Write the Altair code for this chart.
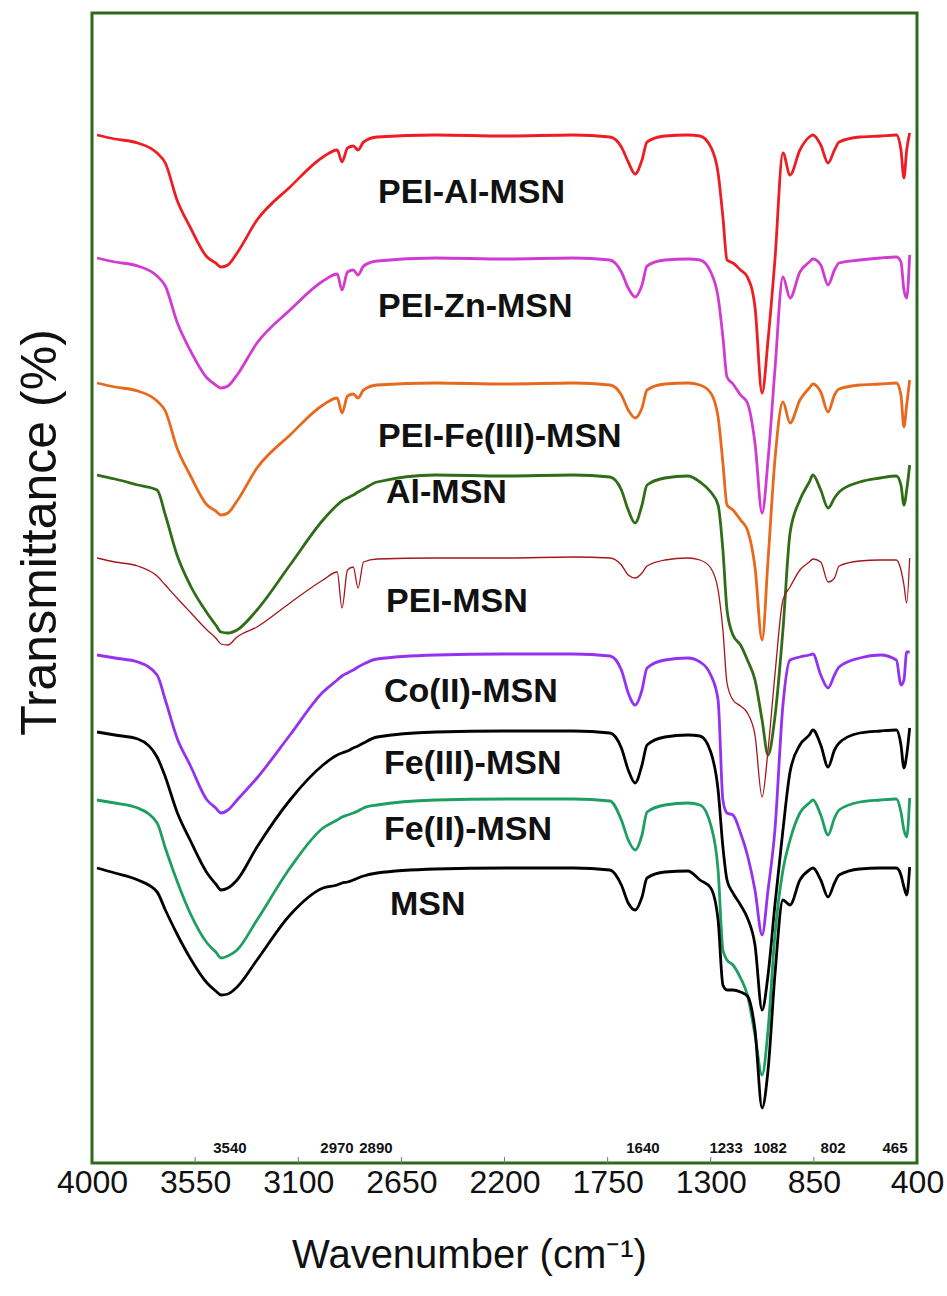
import altair as alt
import pandas as pd

# ---------------- data ----------------
wavenumber = [3978, 3900, 3800, 3716, 3680, 3629, 3572, 3498, 3460, 3437,
              3407, 3367, 3280, 3136, 2992, 2930, 2909, 2885, 2860, 2839,
              2815, 2756, 2500, 2200, 1900, 1740, 1690, 1660, 1630, 1600,
              1578, 1500, 1400, 1347, 1300, 1268, 1247, 1229, 1203, 1170,
              1140, 1107, 1076, 1050, 1020, 985, 954, 911, 870, 854,
              820, 788, 760, 740, 650, 560, 490, 470, 457, 445, 432]

series_names = ["PEI-Al-MSN", "PEI-Zn-MSN", "PEI-Fe(III)-MSN", "Al-MSN", "PEI-MSN",
                "Co(II)-MSN", "Fe(III)-MSN", "Fe(II)-MSN", "MSN"]

t_pei_al = [1028, 1024, 1020, 1010, 1000, 963, 936, 906, 900, 896,
            898, 910, 943, 976, 1006, 1013, 1001, 1015, 1017, 1013,
            1021, 1026, 1028, 1027, 1028, 1026, 1016, 1001, 989, 1003,
            1021, 1027, 1028, 1027, 1016, 990, 946, 903, 900, 893,
            886, 856, 770, 823, 903, 1010, 988, 1013, 1026, 1028,
            1018, 1000, 1013, 1021, 1026, 1027, 1028, 1013, 985, 1013, 1030]
t_pei_zn = [905, 901, 897, 887, 877, 841, 813, 785, 778, 775,
            777, 788, 820, 853, 882, 889, 873, 891, 893, 888,
            897, 902, 905, 904, 905, 903, 891, 875, 866, 878,
            897, 903, 904, 903, 891, 866, 826, 786, 779, 768,
            760, 720, 650, 703, 793, 886, 865, 891, 901, 904,
            898, 878, 893, 900, 903, 905, 906, 901, 873, 865, 908]
t_pei_fe3 = [780, 776, 772, 762, 752, 715, 688, 658, 652, 648,
             650, 662, 695, 728, 758, 765, 750, 767, 769, 765,
             773, 778, 780, 779, 780, 778, 768, 753, 745, 755,
             773, 779, 780, 778, 770, 746, 700, 658, 653, 643,
             633, 596, 523, 603, 703, 761, 740, 763, 775, 779,
             771, 751, 768, 774, 778, 779, 780, 768, 736, 758, 783]
t_al = [688, 684, 678, 673, 648, 608, 578, 550, 538, 531,
        530, 533, 553, 598, 643, 658, 662, 665, 668, 671,
        674, 681, 688, 687, 688, 686, 673, 653, 640, 658,
        678, 685, 687, 681, 671, 658, 613, 553, 528, 518,
        503, 483, 443, 408, 446, 533, 630, 663, 681, 688,
        673, 655, 665, 671, 681, 685, 687, 678, 658, 673, 698]
t_pei = [605, 601, 597, 587, 578, 565, 551, 533, 525, 519,
         518, 526, 536, 560, 583, 591, 555, 593, 596, 575,
         601, 604, 605, 605, 606, 605, 598, 588, 585, 590,
         597, 603, 605, 603, 595, 573, 533, 480, 463, 457,
         450, 428, 366, 413, 488, 563, 576, 593, 601, 604,
         601, 581, 585, 597, 602, 603, 603, 593, 578, 560, 605]
t_co2 = [508, 505, 501, 488, 463, 425, 398, 363, 355, 350,
         353, 363, 385, 428, 471, 483, 487, 490, 493, 496,
         499, 504, 508, 509, 509, 507, 493, 470, 458, 473,
         495, 503, 505, 501, 488, 463, 363, 350, 348, 330,
         308, 273, 228, 273, 333, 458, 503, 506, 508, 509,
         488, 475, 488, 496, 505, 508, 503, 478, 483, 511, 511]
t_fe3 = [431, 428, 424, 406, 386, 351, 323, 290, 279, 273,
         275, 283, 316, 363, 398, 408, 410, 412, 415, 417,
         420, 426, 431, 432, 432, 430, 415, 393, 380, 398,
         418, 426, 428, 427, 411, 373, 316, 283, 270, 258,
         245, 218, 153, 188, 258, 333, 391, 418, 428, 433,
         418, 396, 413, 420, 430, 432, 433, 418, 395, 408, 435]
t_fe2 = [363, 360, 355, 340, 315, 282, 250, 220, 211, 205,
         207, 213, 243, 295, 335, 343, 346, 348, 350, 352,
         355, 358, 363, 364, 364, 362, 343, 323, 313, 328,
         351, 358, 360, 358, 338, 293, 213, 203, 198, 185,
         168, 128, 88, 133, 228, 293, 323, 350, 360, 363,
         348, 328, 345, 353, 361, 363, 364, 351, 333, 326, 365]
t_msn = [295, 290, 283, 271, 253, 229, 205, 180, 172, 168,
         169, 176, 203, 248, 275, 278, 280, 281, 283, 285,
         287, 290, 294, 295, 295, 293, 278, 260, 253, 266,
         285, 291, 292, 283, 275, 243, 178, 173, 173, 171,
         167, 133, 55, 93, 188, 263, 258, 283, 293, 295,
         283, 266, 280, 288, 294, 295, 295, 288, 276, 268, 296]

series_values = [t_pei_al, t_pei_zn, t_pei_fe3, t_al, t_pei, t_co2, t_fe3, t_fe2, t_msn]
series_colors = ["#ee1d23", "#d23bd2", "#e8691e", "#2f6d17", "#a5161c",
                 "#9432f0", "#000000", "#1e9f62", "#000000"]

# curve labels (anchor: wavenumber of left edge, transmittance of centre)
label_text = series_names
label_wn = [2752, 2752, 2752, 2717, 2717, 2726, 2726, 2726, 2700]
label_t = [970, 856, 726, 670, 561, 471, 399, 333, 258]

# band annotations along the bottom
band_text = ["3540", "2970", "2890", "1640", "1233", "1082", "802", "465"]
band_wn = [3398, 2931, 2761, 1596, 1233, 1041, 766, 496]
band_t = [15, 15, 15, 15, 15, 15, 15, 15]

x_ticks = [4000, 3550, 3100, 2650, 2200, 1750, 1300, 850, 400]
inner_ticks = [3550, 3100, 2650, 2200, 1750, 1300, 850]

# ---------------- tables ----------------
rows = []
for name, vals in zip(series_names, series_values):
    for w, t in zip(wavenumber, vals):
        rows.append({"series": name, "wavenumber": w, "T": t})
spectra = pd.DataFrame(rows)
labels = pd.DataFrame({"label": label_text, "wavenumber": label_wn, "T": label_t})
bands = pd.DataFrame({"band": band_text, "wavenumber": band_wn, "T": band_t})
ticks_df = pd.DataFrame({"wavenumber": inner_ticks})

SANS = "'Liberation Sans', Arial, sans-serif"

xscale = alt.Scale(domain=[4000, 400], nice=False, zero=False)
yscale = alt.Scale(domain=[0, 1150], nice=False, zero=False)

x_enc = alt.X(
    "wavenumber:Q", scale=xscale,
    axis=alt.Axis(values=x_ticks, title="Wavenumber (cm\u207b\u00b9)", grid=False,
                  domain=False, ticks=False, labelFlush=False, labelOverlap=False,
                  labelFont=SANS, labelFontSize=32, labelColor="#111111",
                  labelPadding=4, format="d",
                  titleFont=SANS, titleFontSize=40, titleFontWeight="normal",
                  titleColor="#111111", titleX=377, titleY=104,
                  titleBaseline="alphabetic", titleAlign="center"))
y_enc = alt.Y(
    "T:Q", scale=yscale,
    axis=alt.Axis(title="Transmittance (%)", labels=False, ticks=False, domain=False,
                  grid=False, titleFont=SANS, titleFontSize=50, titleFontWeight="normal",
                  titleColor="#111111", titleAngle=270, titleX=-52, titleY=519,
                  titleBaseline="middle", titleAlign="center"))

lines = alt.Chart(spectra).mark_line(interpolate="monotone", strokeJoin="round").encode(
    x=x_enc,
    y=y_enc,
    color=alt.Color("series:N", scale=alt.Scale(domain=series_names, range=series_colors),
                    legend=None),
    strokeWidth=alt.condition(alt.datum.series == "PEI-MSN", alt.value(1.3), alt.value(2.8)),
    detail="series:N",
)

label_layer = alt.Chart(labels).mark_text(
    align="left", baseline="middle", font=SANS, fontSize=34, fontWeight="bold", color="#111111"
).encode(x=alt.X("wavenumber:Q", scale=xscale), y=alt.Y("T:Q", scale=yscale), text="label:N")

band_layer = alt.Chart(bands).mark_text(
    align="center", baseline="middle", font=SANS, fontSize=15, fontWeight="bold", color="#111111"
).encode(x=alt.X("wavenumber:Q", scale=xscale), y=alt.Y("T:Q", scale=yscale), text="band:N")

tick_layer = alt.Chart(ticks_df).mark_rule(color="#777777", strokeWidth=1).encode(
    x=alt.X("wavenumber:Q", scale=xscale),
    y=alt.value(1150), y2=alt.value(1144),
)

chart = alt.layer(tick_layer, lines, label_layer, band_layer).properties(
    width=825, height=1150,
    background="white",
    autosize=alt.AutoSizeParams(type="none"),
    padding={"left": 92, "top": 13, "right": 30, "bottom": 133},
).configure_view(
    stroke="#2d6a1b", strokeWidth=3, fill="white"
)

chart.save("out.html", embed_options={"renderer": "svg", "actions": False})
